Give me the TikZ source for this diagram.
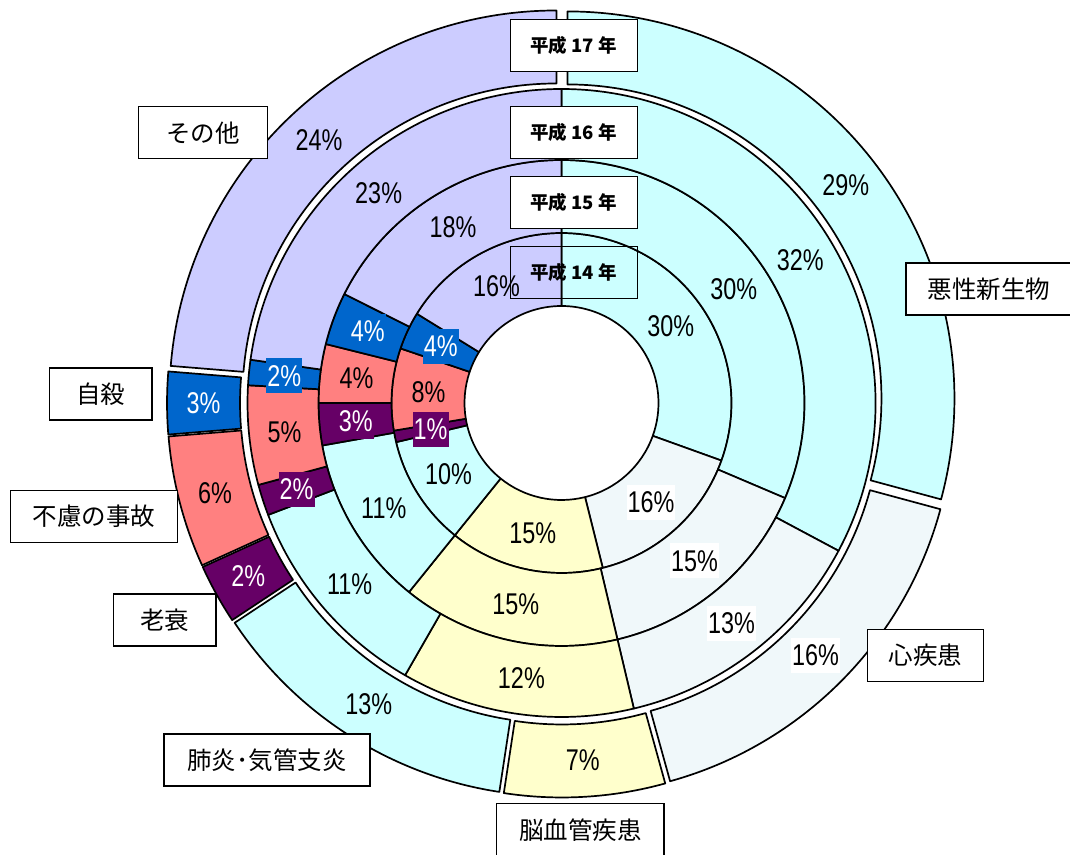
\documentclass[tikz,border=0pt]{standalone}
\usepackage{fontspec}
\setmainfont{Liberation Sans}
\newfontfamily\jpfont{Noto Sans CJK JP}
\newfontfamily\pctfont[FakeStretch=0.78]{Liberation Sans}
\definecolor{cMal}{HTML}{CCFFFF}
\definecolor{cHeart}{HTML}{F0F8FA}
\definecolor{cBrain}{HTML}{FFFFCC}
\definecolor{cPneu}{HTML}{CCFFFF}
\definecolor{cOld}{HTML}{660066}
\definecolor{cAcc}{HTML}{FF8080}
\definecolor{cSui}{HTML}{0066CC}
\definecolor{cOth}{HTML}{CCCCFF}
\tikzset{
  segline/.style={draw=black,line width=1.7pt,line join=round},
  pct/.style={font=\pctfont\fontsize{30}{31}\selectfont,inner xsep=1pt,inner ysep=0pt,minimum height=35pt},
  namebox/.style={draw=black,line width=1.3pt,fill=white,inner sep=0pt,minimum height=52pt,font=\jpfont\fontsize{24.5}{26}\selectfont},
  yearbox/.style={draw=black,line width=1.3pt,inner sep=0pt,minimum width=127pt,minimum height=52pt,font=\jpfont\bfseries\fontsize{18.5}{20}\selectfont},
}
% #1 r-in, #2 r-out, #3 cum start, #4 cum end, #5 colour, #6 explode
\newcommand\dseg[6]{%
  \pgfmathsetmacro\aS{90-3.6*(#3)}%
  \pgfmathsetmacro\aE{90-3.6*(#4)}%
  \pgfmathsetmacro\aM{(\aS+\aE)/2}%
  \begin{scope}[shift={(\aM:#6pt)}]
    \filldraw[segline,fill=#5] (\aS:#1pt) arc[start angle=\aS,end angle=\aE,radius=#1pt]
      -- (\aE:#2pt) arc[start angle=\aE,end angle=\aS,radius=#2pt] -- cycle;
  \end{scope}}
% #1 name, #2 radius, #3 cum start, #4 cum end, #5 fill, #6 text colour, #7 text
\newcommand\dlab[7]{%
  \pgfmathsetmacro\aM{90-1.8*((#3)+(#4))}%
  \node[pct,fill=#5,text=#6] (#1) at (\aM:#2pt) {#7};}
\begin{document}
\begin{tikzpicture}[x=1pt,y=1pt]
\useasboundingbox (0,0) rectangle (1070,854);
\fill[white] (0,0) rectangle (1070,854);
\begin{scope}[shift={(561.5,451)}]
  % ring 1 (H14)
  \dseg{97}{170}{0}{30.5}{cMal}{0}
  \dseg{97}{170}{30.5}{46.1}{cHeart}{0}
  \dseg{97}{170}{46.1}{60.8}{cBrain}{0}
  \dseg{97}{170}{60.8}{71.3}{cPneu}{0}
  \dseg{97}{170}{71.3}{72.4}{cOld}{0}
  \dseg{97}{170}{72.4}{80.2}{cAcc}{0}
  \dseg{97}{170}{80.2}{83.8}{cSui}{0}
  \dseg{97}{170}{83.8}{100}{cOth}{0}
  % ring 2 (H15)
  \dseg{170}{243}{0}{31.4}{cMal}{0}
  \dseg{170}{243}{31.4}{46.3}{cHeart}{0}
  \dseg{170}{243}{46.3}{60.8}{cBrain}{0}
  \dseg{170}{243}{60.8}{72.2}{cPneu}{0}
  \dseg{170}{243}{72.2}{75.0}{cOld}{0}
  \dseg{170}{243}{75.0}{78.9}{cAcc}{0}
  \dseg{170}{243}{78.9}{82.4}{cSui}{0}
  \dseg{170}{243}{82.4}{100}{cOth}{0}
  % ring 3 (H16)
  \dseg{243}{314}{0}{32.8}{cMal}{0}
  \dseg{243}{314}{32.8}{46.3}{cHeart}{0}
  \dseg{243}{314}{46.3}{58.3}{cBrain}{0}
  \dseg{243}{314}{58.3}{69.2}{cPneu}{0}
  \dseg{243}{314}{69.2}{70.8}{cOld}{0}
  \dseg{243}{314}{70.8}{75.9}{cAcc}{0}
  \dseg{243}{314}{75.9}{77.2}{cSui}{0}
  \dseg{243}{314}{77.2}{100}{cOth}{0}
  % ring 4 (H17), exploded
  \dseg{314}{387}{0}{29.2}{cMal}{7.5}
  \dseg{314}{387}{29.2}{45.7}{cHeart}{7.5}
  \dseg{314}{387}{45.7}{52.4}{cBrain}{7.5}
  \dseg{314}{387}{52.4}{65.7}{cPneu}{7.5}
  \dseg{314}{387}{65.7}{68.2}{cOld}{7.5}
  \dseg{314}{387}{68.2}{73.7}{cAcc}{7.5}
  \dseg{314}{387}{73.7}{76.3}{cSui}{7.5}
  \dseg{314}{387}{76.3}{100}{cOth}{7.5}
  % labels ring 1
  \dlab{pa1}{133.5}{0}{30.5}{cMal}{black}{30\%}
  \dlab{pb1}{133.5}{30.5}{46.1}{white}{black}{16\%}
  \dlab{pc1}{133.5}{46.1}{60.8}{cBrain}{black}{15\%}
  \dlab{pd1}{133.5}{60.8}{71.3}{cPneu}{black}{10\%}
  \dlab{pe1}{133.5}{71.3}{72.4}{cOld}{white}{1\%}
  \dlab{pf1}{133.5}{72.4}{80.2}{cAcc}{black}{8\%}
  \dlab{pg1}{133.5}{80.2}{83.8}{cSui}{white}{4\%}
  \dlab{ph1}{133.5}{83.8}{100}{cOth}{black}{16\%}
  % labels ring 2
  \dlab{pa2}{206.5}{0}{31.4}{cMal}{black}{30\%}
  \dlab{pb2}{206.5}{31.4}{46.3}{white}{black}{15\%}
  \dlab{pc2}{206.5}{46.3}{60.8}{cBrain}{black}{15\%}
  \dlab{pd2}{206.5}{60.8}{72.2}{cPneu}{black}{11\%}
  \dlab{pe2}{206.5}{72.2}{75.0}{cOld}{white}{3\%}
  \dlab{pf2}{206.5}{75.0}{78.9}{cAcc}{black}{4\%}
  \dlab{pg2}{206.5}{78.9}{82.4}{cSui}{white}{4\%}
  \dlab{ph2}{206.5}{82.4}{100}{cOth}{black}{18\%}
  % labels ring 3
  \dlab{pa3}{278.5}{0}{32.8}{cMal}{black}{32\%}
  \dlab{pb3}{278.5}{32.8}{46.3}{white}{black}{13\%}
  \dlab{pc3}{278.5}{46.3}{58.3}{cBrain}{black}{12\%}
  \dlab{pd3}{278.5}{58.3}{69.2}{cPneu}{black}{11\%}
  \dlab{pe3}{278.5}{69.2}{70.8}{cOld}{white}{2\%}
  \dlab{pf3}{278.5}{70.8}{75.9}{cAcc}{black}{5\%}
  \dlab{pg3}{278.5}{75.9}{77.2}{cSui}{white}{2\%}
  \dlab{ph3}{278.5}{77.2}{100}{cOth}{black}{23\%}
  % labels ring 4
  \dlab{pa4}{358}{0}{29.2}{cMal}{black}{29\%}
  \dlab{pb4}{358}{29.2}{45.7}{white}{black}{16\%}
  \dlab{pc4}{358}{45.7}{52.4}{cBrain}{black}{7\%}
  \dlab{pd4}{358}{52.4}{65.7}{cPneu}{black}{13\%}
  \dlab{pe4}{358}{65.7}{68.2}{cOld}{white}{2\%}
  \dlab{pf4}{358}{68.2}{73.7}{cAcc}{black}{6\%}
  \dlab{pg4}{358}{73.7}{76.3}{cSui}{white}{3\%}
  \dlab{ph4}{358}{76.3}{100}{cOth}{black}{24\%}
\end{scope}
% year boxes
\node[yearbox,fill=white] (y17) at (573.7,808.2) {平成 17 年};
\node[yearbox,fill=white] (y16) at (573.7,721.2) {平成 16 年};
\node[yearbox,fill=white] (y15) at (573.7,651.3) {平成 15 年};
\node[yearbox] (y14) at (573.7,581.5) {平成 14 年};
% category boxes
\node[namebox,minimum width=129pt] (nOth) at (202.8,721.2) {その他};
\node[namebox,minimum width=102.7pt] (nSui) at (100.7,459.9) {自殺};
\node[namebox,minimum width=166.6pt] (nAcc) at (94,337.6) {不慮の事故};
\node[namebox,minimum width=102.7pt] (nOld) at (164.7,234) {老衰};
\node[namebox,minimum width=206pt] (nPneu) at (267,94) {肺炎･気管支炎};
\node[namebox,minimum width=167.3pt,minimum height=53.7pt] (nBrain) at (580.4,23.9) {脳血管疾患};
\node[namebox,minimum width=166pt] (nMal) at (989,564.9) {悪性新生物};
\node[namebox,minimum width=115.6pt] (nHeart) at (925.5,198.4) {心疾患};
\end{tikzpicture}
\end{document}
